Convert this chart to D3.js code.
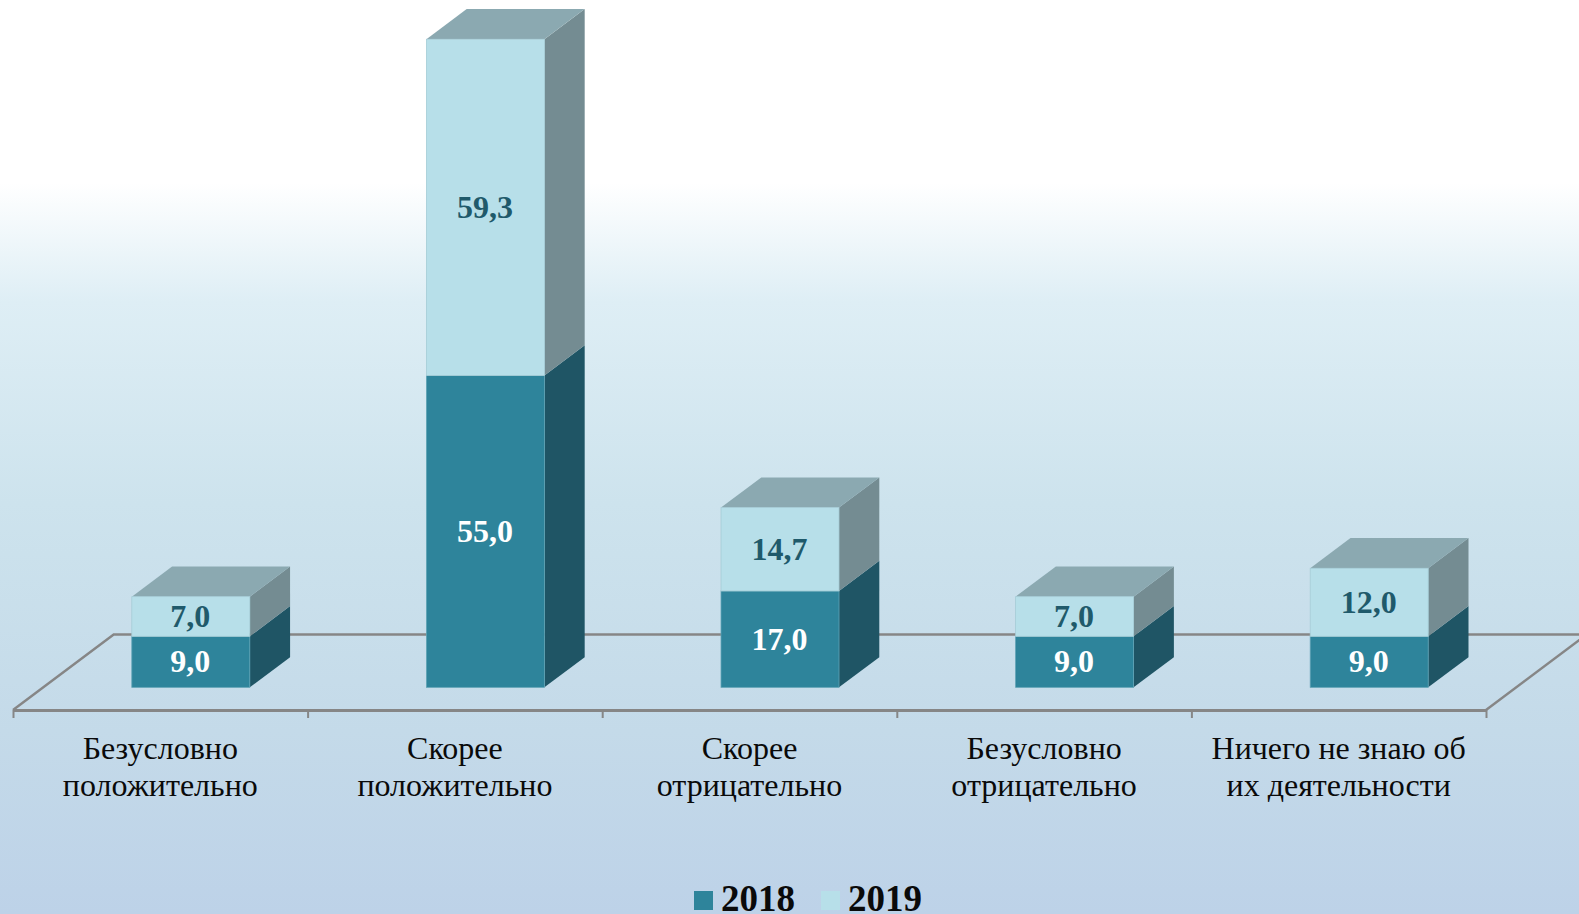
<!DOCTYPE html>
<html>
<head>
<meta charset="utf-8">
<script src="https://cdn.jsdelivr.net/npm/d3@7"></script>
<style>
  html, body { margin: 0; padding: 0; overflow: hidden; }
  svg { display: block; }
  text { font-family: "Liberation Serif", serif; }
</style>
</head>
<body>
<svg width="1579" height="914"></svg>
<script>
const categories = [
  ["Безусловно", "положительно"],
  ["Скорее", "положительно"],
  ["Скорее", "отрицательно"],
  ["Безусловно", "отрицательно"],
  ["Ничего не знаю об", "их деятельности"]
];
const years = ["2018", "2019"];
const values2018 = [9.0, 55.0, 17.0, 9.0, 9.0];
const values2019 = [7.0, 59.3, 14.7, 7.0, 12.0];

let width = 1579, height = 914;
let svg = d3.select("svg");

// background
let defs = svg.append("defs");
let grad = defs.append("linearGradient").attr("id", "bg")
    .attr("x1", 0).attr("y1", 0).attr("x2", 0).attr("y2", 1);
[[0, "#ffffff"], [0.2, "#ffffff"], [0.33, "#deeef5"], [0.55, "#cde3ed"], [0.8, "#c4dae9"], [1, "#bdd2e8"]]
  .forEach(function(s) { grad.append("stop").attr("offset", s[0]).attr("stop-color", s[1]); });
svg.append("rect").attr("width", width).attr("height", height).attr("fill", "url(#bg)");

// floor geometry
let floorLeft = 13, floorRight = 1486, floorY = 710;
let depthX = 100.7, depthY = 75.5;   // full depth of the floor
let axisColor = "#868686";

let x = d3.scaleLinear().domain([0, categories.length]).range([floorLeft, floorRight]);
let band = x(1) - x(0);
let barWidth = 118;

let y = d3.scaleLinear().domain([0, 100]).range([0, 567]); // height in px

// back and side lines of the floor
let floor = svg.append("g").attr("fill", "none").attr("stroke", axisColor).attr("stroke-width", 2.4);
floor.append("path").attr("d", d3.line()([
  [floorLeft, floorY],
  [floorLeft + depthX, floorY - depthY],
  [floorRight + depthX, floorY - depthY],
  [floorRight, floorY]
]));

// front axis
let axis = d3.axisBottom(x).tickValues(d3.range(categories.length + 1)).tickFormat("").tickSize(8).tickSizeOuter(0);
let axisG = svg.append("g").attr("transform", "translate(0," + floorY + ")").call(axis);
axisG.selectAll("path, line").attr("stroke", axisColor);
axisG.select("path").attr("stroke-width", 3);
axisG.selectAll("line").attr("stroke-width", 2);

// stacked boxes, 0.3 of the depth in front and behind
let series = [
  { year: years[0], vals: values2018, front: "#2e849b", side: "#1f5565", top: "#1f5565", label: "#ffffff" },
  { year: years[1], vals: values2019, front: "#b7dfe9", side: "#748c92", top: "#8ba9b1", label: "#1f5a6b" }
];

let bars = svg.append("g");
categories.forEach(function(c, i) {
  let cx = x(i) + band / 2 + 0.3 * depthX + 0.3;
  let x0 = cx - barWidth / 2, x1 = cx + barWidth / 2;
  let base = floorY - 0.3 * depthY;
  let dx = 0.4 * depthX, dy = 0.4 * depthY;
  let used = 0;
  series.forEach(function(s, si) {
    let bottom = base - y(used);
    let top = bottom - y(s.vals[i]);
    used += s.vals[i];

    bars.append("path")
      .attr("d", d3.line()([[x1, bottom], [x1 + dx, bottom - dy], [x1 + dx, top - dy], [x1, top]]) + "Z")
      .attr("fill", s.side);
    if (si === series.length - 1) {
      bars.append("path")
        .attr("d", d3.line()([[x0, top], [x0 + dx, top - dy], [x1 + dx, top - dy], [x1, top]]) + "Z")
        .attr("fill", s.top);
    }
    bars.append("rect")
      .attr("x", x0).attr("y", top)
      .attr("width", barWidth).attr("height", bottom - top)
      .attr("fill", s.front)
      .attr("stroke", si === 0 ? "#5fa3b5" : "#a5ccd6").attr("stroke-width", 0.8);
    bars.append("text")
      .attr("x", cx - 0.5).attr("y", (top + bottom) / 2)
      .attr("dy", "0.33em")
      .attr("text-anchor", "middle")
      .attr("font-size", 32).attr("font-weight", "bold")
      .attr("fill", s.label)
      .text(s.vals[i].toFixed(1).replace(".", ","));
  });
});

// category labels
let labels = svg.append("g").attr("text-anchor", "middle").attr("font-size", 32).attr("fill", "#0a0a0a");
categories.forEach(function(c, i) {
  c.forEach(function(line, k) {
    labels.append("text")
      .attr("x", x(i) + band / 2)
      .attr("y", 758.5 + k * 37.3)
      .text(line);
  });
});

// legend
let legendX = [694, 821];
series.forEach(function(s, i) {
  svg.append("rect")
    .attr("x", legendX[i]).attr("y", 891)
    .attr("width", 19).attr("height", 19)
    .attr("fill", s.front);
  svg.append("text")
    .attr("x", legendX[i] + 27).attr("y", 911)
    .attr("font-size", 37).attr("font-weight", "bold")
    .attr("fill", "#0a0a0a")
    .text(s.year);
});
</script>
</body>
</html>
